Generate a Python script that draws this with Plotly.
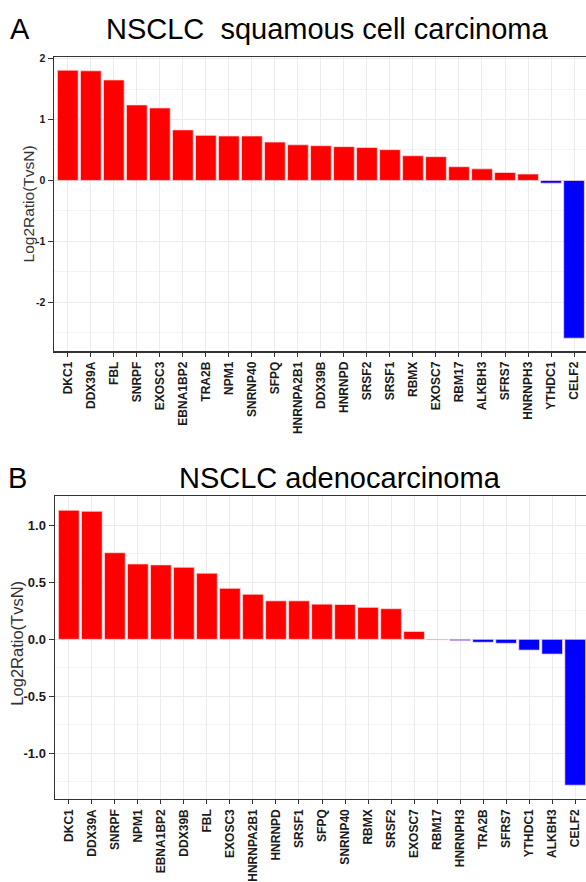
import plotly.graph_objects as go

# ---- data ----
genes_A = ["DKC1", "DDX39A", "FBL", "SNRPF", "EXOSC3", "EBNA1BP2", "TRA2B", "NPM1",
           "SNRNP40", "SFPQ", "HNRNPA2B1", "DDX39B", "HNRNPD", "SRSF2", "SRSF1", "RBMX",
           "EXOSC7", "RBM17", "ALKBH3", "SFRS7", "HNRNPH3", "YTHDC1", "CELF2"]
vals_A = [1.81, 1.80, 1.65, 1.24, 1.19, 0.83, 0.74, 0.73, 0.73, 0.63, 0.585, 0.57,
          0.555, 0.54, 0.505, 0.405, 0.39, 0.225, 0.19, 0.13, 0.105, -0.045, -2.59]

genes_B = ["DKC1", "DDX39A", "SNRPF", "NPM1", "EBNA1BP2", "DDX39B", "FBL", "EXOSC3",
           "HNRNPA2B1", "HNRNPD", "SRSF1", "SFPQ", "SNRNP40", "RBMX", "SRSF2", "EXOSC7",
           "RBM17", "HNRNPH3", "TRA2B", "SFRS7", "YTHDC1", "ALKBH3", "CELF2"]
vals_B = [1.134, 1.125, 0.761, 0.662, 0.654, 0.633, 0.581, 0.448, 0.396, 0.338, 0.338,
          0.309, 0.306, 0.281, 0.269, 0.069, -0.005, -0.012, -0.026, -0.035, -0.095,
          -0.130, -1.282]

title_A = "NSCLC\u00a0 squamous cell carcinoma"
title_B = "NSCLC adenocarcinoma"
y_title = "Log2Ratio(TvsN)"
ticks_A = [-2, -1, 0, 1, 2]
ticks_B = [-1.0, -0.5, 0.0, 0.5, 1.0]
ticktext_B = ["-1.0", "-0.5", "0.0", "0.5", "1.0"]

W, H = 586, 882
FONT = "Arial, Liberation Sans, Helvetica, sans-serif"
RED, BLUE = "#FF0000", "#0000FF"


def px_x(p):
    return p / W


def px_y(p):
    return 1 - p / H


fig = go.Figure()
fig.add_trace(go.Bar(x=genes_A, y=vals_A, width=0.9,
                     marker=dict(color=[RED if v > 0 else BLUE for v in vals_A],
                                 line=dict(color="rgba(255,220,220,0.9)", width=0.8)),
                     xaxis="x", yaxis="y", showlegend=False))
fig.add_trace(go.Bar(x=genes_B, y=vals_B, width=0.9,
                     marker=dict(color=[RED if v > 0 else BLUE for v in vals_B],
                                 line=dict(color="rgba(255,220,220,0.9)", width=0.8)),
                     xaxis="x2", yaxis="y2", showlegend=False))

grid = "#EBEBEB"
minor_grid = "#F4F4F4"
axis_common_x = dict(type="category", showgrid=True, gridcolor=grid, gridwidth=1,
                     ticks="outside", ticklen=4, tickwidth=1, tickcolor="#333",
                     tickangle=-90, tickfont=dict(family=FONT, size=12, color="#1a1a1a",
                                                  weight="bold"),
                     showline=True, linecolor="#333", linewidth=1.5, mirror=True,
                     zeroline=False, fixedrange=True)
axis_common_y = dict(showgrid=True, gridcolor=grid, gridwidth=1, zeroline=False,
                     showline=True, linecolor="#333", linewidth=1.5,
                     ticks="outside", ticklen=5, tickwidth=1, tickcolor="#333",
                     fixedrange=True)

fig.update_layout(
    width=W, height=H,
    margin=dict(l=0, r=0, t=0, b=0),
    paper_bgcolor="white", plot_bgcolor="white",
    bargap=0,
    xaxis=dict(domain=[px_x(54), 1], anchor="y", range=[-0.6, 22.52],
               categoryorder="array", categoryarray=genes_A, **axis_common_x),
    yaxis=dict(domain=[px_y(350.7), px_y(52.7)], anchor="x", range=[-2.806, 2.026],
               tickvals=ticks_A, ticktext=[str(t) for t in ticks_A],
               tickfont=dict(family=FONT, size=10.5, color="#1a1a1a", weight="bold"),
               minor=dict(tickvals=[-2.5, -1.5, -0.5, 0.5, 1.5], showgrid=True,
                          gridcolor=minor_grid, ticks=""),
               **axis_common_y),
    xaxis2=dict(domain=[px_x(55), 1], anchor="y2", range=[-0.6, 22.47],
                categoryorder="array", categoryarray=genes_B, **axis_common_x),
    yaxis2=dict(domain=[px_y(804), px_y(497.7)], anchor="x2", range=[-1.403, 1.255],
                tickvals=ticks_B, ticktext=ticktext_B,
                tickfont=dict(family=FONT, size=13, color="#1a1a1a", weight="bold"),
                minor=dict(tickvals=[-1.25, -0.75, -0.25, 0.25, 0.75], showgrid=True,
                           gridcolor=minor_grid, ticks=""),
                **axis_common_y),
)

ann = []
ann.append(dict(text="A", x=px_x(19.5), y=px_y(24), xref="paper", yref="paper",
                xanchor="center", yanchor="middle", showarrow=False,
                font=dict(family=FONT, size=29, color="black")))
ann.append(dict(text=title_A, x=px_x(327), y=px_y(24), xref="paper", yref="paper",
                xanchor="center", yanchor="middle", showarrow=False,
                font=dict(family=FONT, size=29, color="black")))
ann.append(dict(text="B", x=px_x(17.6), y=px_y(479), xref="paper", yref="paper",
                xanchor="center", yanchor="middle", showarrow=False,
                font=dict(family=FONT, size=29, color="black")))
ann.append(dict(text=title_B, x=px_x(340), y=px_y(479), xref="paper", yref="paper",
                xanchor="center", yanchor="middle", showarrow=False,
                font=dict(family=FONT, size=29, color="black")))
ann.append(dict(text=y_title, x=px_x(28.3), y=px_y(201.7), xref="paper", yref="paper",
                xanchor="center", yanchor="middle", showarrow=False, textangle=-90,
                font=dict(family=FONT, size=15.5, color="#333")))
ann.append(dict(text=y_title, x=px_x(16.7), y=px_y(646), xref="paper", yref="paper",
                xanchor="center", yanchor="middle", showarrow=False, textangle=-90,
                font=dict(family=FONT, size=16.5, color="#333")))
fig.update_layout(annotations=ann)

fig.write_html("out.html",
               config={"displayModeBar": False, "staticPlot": True},
               post_script="document.body.style.margin='0px';"
                           "document.body.style.overflow='hidden';")
